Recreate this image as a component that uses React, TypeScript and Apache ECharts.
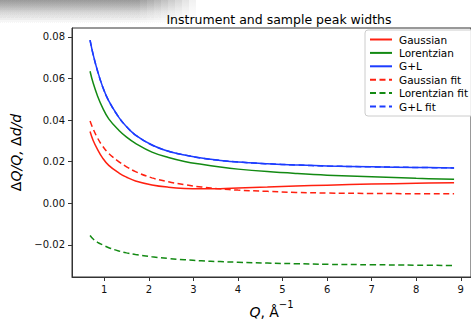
import React, { useEffect, useRef } from "react";
import * as echarts from "echarts";

const qValues = [0.68, 0.75, 0.85, 0.96, 1.1, 1.33, 1.5, 1.7, 2.07, 2.44, 2.8, 3.18, 3.6, 4.0, 4.66, 5.3, 6.0, 7.0, 8.0, 8.85];
const gaussian = [0.0345, 0.0302, 0.0258, 0.0218, 0.0182, 0.0145, 0.0125, 0.0107, 0.0088, 0.0077, 0.0071, 0.0069, 0.007, 0.0073, 0.0078, 0.0083, 0.0087, 0.0092, 0.0096, 0.0099];
const lorentzian = [0.0635, 0.0578, 0.0515, 0.046, 0.0406, 0.035, 0.0318, 0.0288, 0.0246, 0.022, 0.0201, 0.0187, 0.0174, 0.0164, 0.0152, 0.0143, 0.0135, 0.0127, 0.012, 0.0115];
const gPlusL = [0.0785, 0.0715, 0.0635, 0.0562, 0.0492, 0.0412, 0.0368, 0.0328, 0.028, 0.025, 0.0232, 0.0217, 0.0206, 0.0198, 0.019, 0.0184, 0.0179, 0.0175, 0.0172, 0.017];
const gaussianFit = [0.0395, 0.0357, 0.0313, 0.0275, 0.0239, 0.0199, 0.0175, 0.0152, 0.0122, 0.0103, 0.0089, 0.0078, 0.0069, 0.0063, 0.0057, 0.0052, 0.0049, 0.0047, 0.0046, 0.0046];
const lorentzianFit = [-0.0155, -0.0172, -0.0188, -0.02, -0.0214, -0.023, -0.0239, -0.0247, -0.0258, -0.0266, -0.0272, -0.0277, -0.0281, -0.0284, -0.0288, -0.0291, -0.0294, -0.0296, -0.0298, -0.03];
const gPlusLFit = [0.0785, 0.0715, 0.0635, 0.0562, 0.0492, 0.0412, 0.0368, 0.0328, 0.028, 0.025, 0.0232, 0.0217, 0.0206, 0.0198, 0.019, 0.0184, 0.0179, 0.0175, 0.0172, 0.017];

const xTicks = [1, 2, 3, 4, 5, 6, 7, 8, 9];
const yTicks = [-0.02, 0, 0.02, 0.04, 0.06, 0.08];

const seriesDefs = [
  { name: "Gaussian", data: gaussian, color: "#ff2010", dashed: false },
  { name: "Lorentzian", data: lorentzian, color: "#138a13", dashed: false },
  { name: "G+L", data: gPlusL, color: "#1c3cff", dashed: false },
  { name: "Gaussian fit", data: gaussianFit, color: "#ff2010", dashed: true },
  { name: "Lorentzian fit", data: lorentzianFit, color: "#138a13", dashed: true },
  { name: "G+L fit", data: gPlusLFit, color: "#1c3cff", dashed: true },
];

const FONT = "DejaVu Sans";

const shadeWidths = [196, 189, 182, 175, 168, 161, 154, 147, 140];

export default function App() {
  const ref = useRef<HTMLDivElement>(null);
  useEffect(() => {
    document.body.style.margin = "0";
    const chart = echarts.init(ref.current!, null, { renderer: "svg" });
    chart.setOption({
      animation: false,
      backgroundColor: "#fff",
      title: {
        text: "Instrument and sample peak widths",
        left: 274,
        textAlign: "center",
        top: 8,
        textStyle: { fontFamily: FONT, fontSize: 12.5, fontWeight: "normal", color: "#000" },
      },
      graphic: shadeWidths.map((w) => ({
        type: "rect",
        silent: true,
        shape: { x: 0, y: 0, width: w, height: 24 },
        style: {
          fill: {
            type: "linear", x: 0, y: 0, x2: 0, y2: 1,
            colorStops: [
              { offset: 0, color: "rgba(0,0,0,0.055)" },
              { offset: 0.5, color: "rgba(0,0,0,0.02)" },
              { offset: 1, color: "rgba(0,0,0,0)" },
            ],
          },
        },
        z: 100,
      })),
      legend: {
        orient: "vertical",
        left: 365,
        top: 30,
        padding: [4, 12, 4, 4],
        itemWidth: 22,
        itemHeight: 12,
        itemGap: 2.4,
        backgroundColor: "rgba(255,255,255,0.85)",
        borderColor: "#cccccc",
        borderWidth: 1,
        borderRadius: 3,
        itemStyle: { opacity: 0 },
        textStyle: { fontFamily: FONT, fontSize: 10.5, color: "#000", padding: [0, 0, 0, 2] },
        data: seriesDefs.map((s) => s.name),
      },
      grid: { left: 72, top: 28, right: -5, bottom: 35, show: true, borderColor: "#333", borderWidth: 1 },
      xAxis: {
        type: "value",
        min: 0.275,
        max: 9.23,
        name: "{i|Q}{n|, Å}{s|−1}",
        nameLocation: "middle",
        nameGap: 22,
        nameTextStyle: {
          rich: {
            i: { fontFamily: FONT, fontStyle: "italic", fontSize: 14, color: "#000", verticalAlign: "bottom", lineHeight: 20 },
            n: { fontFamily: FONT, fontSize: 14, color: "#000", verticalAlign: "bottom", lineHeight: 20 },
            s: { fontFamily: FONT, fontSize: 10, color: "#000", verticalAlign: "top", lineHeight: 20 },
          },
        },
        axisLine: { show: true, onZero: false, lineStyle: { color: "#333", width: 1 } },
        axisTick: { show: true, length: 4, customValues: xTicks, lineStyle: { color: "#333" } },
        axisLabel: {
          customValues: xTicks,
          margin: 7,
          fontFamily: FONT,
          fontSize: 10,
          color: "#111",
          formatter: (v: number) => String(v),
        },
        splitLine: { show: false },
      },
      yAxis: {
        type: "value",
        min: -0.0355,
        max: 0.0843,
        name: "{d|Δ}{i|Q}{n|/}{i|Q}{n|, }{d|Δ}{i|d}{n|/}{i|d}",
        nameLocation: "middle",
        nameGap: 41,
        nameRotate: 90,
        nameTextStyle: {
          rich: {
            d: { fontFamily: FONT, fontSize: 14, color: "#000" },
            i: { fontFamily: FONT, fontStyle: "italic", fontSize: 14, color: "#000" },
            n: { fontFamily: FONT, fontStyle: "italic", fontSize: 14, color: "#000" },
          },
        },
        axisLine: { show: true, onZero: false, lineStyle: { color: "#333", width: 1 } },
        axisTick: { show: true, length: 4, customValues: yTicks, lineStyle: { color: "#333" } },
        axisLabel: {
          customValues: yTicks,
          margin: 7,
          fontFamily: FONT,
          fontSize: 10,
          color: "#111",
          formatter: (v: number) => (v < 0 ? "−" + Math.abs(v).toFixed(2) : v.toFixed(2)),
        },
        splitLine: { show: false },
      },
      series: seriesDefs.map((s) => ({
        name: s.name,
        type: "line",
        data: qValues.map((q, i) => [q, s.data[i]]),
        symbol: "none",
        smooth: 0.4,
        color: s.color,
        lineStyle: { color: s.color, width: 1.5, type: s.dashed ? [6, 3.5] : "solid" },
      })),
    });
    return () => chart.dispose();
  }, []);
  return <div ref={ref} style={{ width: 471, height: 324, position: "absolute", left: 0, top: 0 }} />;
}
